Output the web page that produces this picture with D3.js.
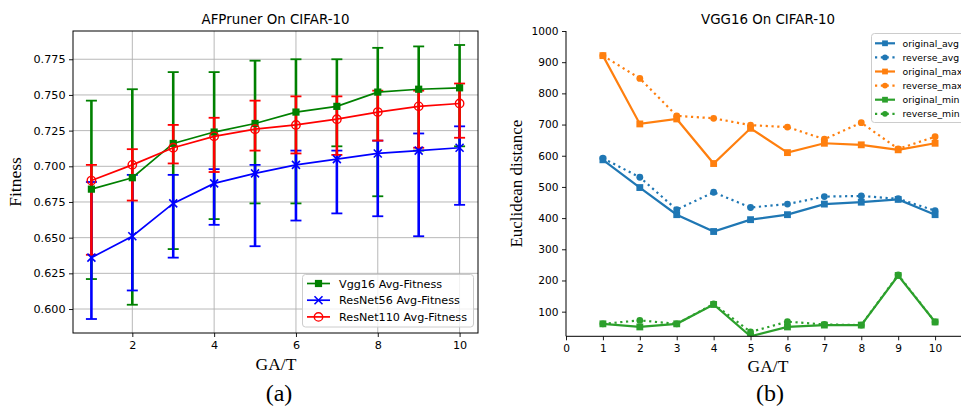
<!DOCTYPE html>
<html>
<head>
<meta charset="utf-8">
<script src="https://cdn.jsdelivr.net/npm/d3@7"></script>
<style>
  body { margin: 0; background: #fff; }
  svg { display: block; }
</style>
</head>
<body>
<div id="chart"></div>
<script>
// ---- (a) AFPruner fitness per generation ----
let generations = [1, 2, 3, 4, 5, 6, 7, 8, 9, 10];

let vggMean = [0.684, 0.692, 0.716, 0.724, 0.730, 0.738, 0.742, 0.752, 0.754, 0.755];
let vggLow  = [0.621, 0.603, 0.642, 0.663, 0.674, 0.674, 0.714, 0.679, 0.711, 0.714];
let vggHigh = [0.746, 0.754, 0.766, 0.766, 0.774, 0.775, 0.775, 0.783, 0.784, 0.785];

let res56Mean = [0.636, 0.651, 0.674, 0.688, 0.695, 0.701, 0.705, 0.709, 0.711, 0.713];
let res56Low  = [0.593, 0.613, 0.636, 0.659, 0.644, 0.662, 0.667, 0.665, 0.651, 0.673];
let res56High = [0.689, 0.694, 0.694, 0.698, 0.701, 0.711, 0.711, 0.718, 0.723, 0.728];

let res110Mean = [0.690, 0.701, 0.713, 0.721, 0.726, 0.729, 0.733, 0.738, 0.742, 0.744];
let res110Low  = [0.638, 0.676, 0.702, 0.696, 0.711, 0.709, 0.708, 0.718, 0.713, 0.720];
let res110High = [0.701, 0.712, 0.729, 0.734, 0.746, 0.749, 0.749, 0.753, 0.753, 0.758];

let fitnessTicks = [0.600, 0.625, 0.650, 0.675, 0.700, 0.725, 0.750, 0.775];
let genTicks = [2, 4, 6, 8, 10];

// ---- (b) VGG16 euclidean distance ----
let originalAvg = [587, 498, 411, 357, 395, 411, 445, 451, 460, 411];
let reverseAvg  = [592, 531, 427, 483, 434, 445, 469, 471, 462, 424];
let originalMax = [921, 702, 718, 575, 688, 610, 640, 635, 619, 640];
let reverseMax  = [921, 848, 728, 720, 698, 692, 653, 706, 622, 661];
let originalMin = [61, 51, 61, 123, 21, 51, 57, 57, 216, 67];
let reverseMin  = [61, 72, 61, 125, 35, 68, 59, 57, 218, 67];

let distTicks = [100, 200, 300, 400, 500, 600, 700, 800, 900, 1000];
let distXTicks = [0, 1, 2, 3, 4, 5, 6, 7, 8, 9, 10];

let sans = "DejaVu Sans, sans-serif";
let serif = "Liberation Serif, Times New Roman, serif";

let svg = d3.select("#chart")
  .append("svg")
  .attr("width", 961)
  .attr("height", 408);

let defs = svg.append("defs");

// =================== panel (a) ===================
let a = { left: 73, right: 478, top: 31, bottom: 333 };

let xA = d3.scaleLinear().domain([0.55, 10.45]).range([a.left, a.right]);
let yA = d3.scaleLinear().domain([0.5832, 0.7948]).range([a.bottom, a.top]);

defs.append("clipPath").attr("id", "clipA")
  .append("rect")
  .attr("x", a.left).attr("y", a.top)
  .attr("width", a.right - a.left).attr("height", a.bottom - a.top);

// grid
svg.append("g")
  .selectAll("line")
  .data(fitnessTicks)
  .enter()
  .append("line")
  .attr("x1", a.left).attr("x2", a.right)
  .attr("y1", d => yA(d)).attr("y2", d => yA(d))
  .attr("stroke", "#b0b0b0").attr("stroke-width", 0.9);

svg.append("g")
  .selectAll("line")
  .data(genTicks)
  .enter()
  .append("line")
  .attr("y1", a.top).attr("y2", a.bottom)
  .attr("x1", d => xA(d)).attr("x2", d => xA(d))
  .attr("stroke", "#b0b0b0").attr("stroke-width", 0.9);

let axisLeftA = d3.axisLeft(yA).tickValues(fitnessTicks).tickFormat(d3.format(".3f"))
  .tickSize(4).tickPadding(3.5);
let axisBottomA = d3.axisBottom(xA).tickValues(genTicks).tickSize(4).tickPadding(4);

let gyA = svg.append("g").attr("transform", `translate(${a.left},0)`).call(axisLeftA);
let gxA = svg.append("g").attr("transform", `translate(0,${a.bottom})`).call(axisBottomA);
[gyA, gxA].forEach(g => {
  g.select(".domain").remove();
  g.selectAll("text").attr("font-family", sans).attr("font-size", 11.2).attr("fill", "#000");
  g.selectAll("line").attr("stroke", "#000").attr("stroke-width", 0.9);
});

let seriesA = [
  { name: "Vgg16 Avg-Fitness", color: "#008000", marker: "square", mean: vggMean, low: vggLow, high: vggHigh },
  { name: "ResNet56 Avg-Fitness", color: "#0000ff", marker: "x", mean: res56Mean, low: res56Low, high: res56High },
  { name: "ResNet110 Avg-Fitness", color: "#ff0000", marker: "circle", mean: res110Mean, low: res110Low, high: res110High }
];

let plotA = svg.append("g").attr("clip-path", "url(#clipA)");

// error bars go below all the lines (matplotlib zorder)
seriesA.forEach(s => {
  let g = plotA.append("g").attr("stroke", s.color);
  generations.forEach((gen, i) => {
    let x = xA(gen);
    g.append("line")
      .attr("x1", x).attr("x2", x)
      .attr("y1", yA(s.low[i])).attr("y2", yA(s.high[i]))
      .attr("stroke-width", 2.6);
    [s.low[i], s.high[i]].forEach(v => {
      g.append("line")
        .attr("x1", x - 5.5).attr("x2", x + 5.5)
        .attr("y1", yA(v)).attr("y2", yA(v))
        .attr("stroke-width", 1.8);
    });
  });
});

function drawMarker(g, type, x, y, color, k) {
  k = k || 1;
  if (type === "square") {
    g.append("rect")
      .attr("x", x - 3.6 * k).attr("y", y - 3.6 * k)
      .attr("width", 7.2 * k).attr("height", 7.2 * k)
      .attr("fill", color);
  } else if (type === "x") {
    let r = 4 * k;
    g.append("path")
      .attr("d", `M${x - r},${y - r}L${x + r},${y + r}M${x - r},${y + r}L${x + r},${y - r}`)
      .attr("stroke", color).attr("stroke-width", 1.6).attr("fill", "none");
  } else if (type === "circle") {
    g.append("circle")
      .attr("cx", x).attr("cy", y).attr("r", 4.2 * k)
      .attr("fill", "none").attr("stroke", color).attr("stroke-width", 1.4);
  } else if (type === "dot") {
    g.append("circle")
      .attr("cx", x).attr("cy", y).attr("r", 3.6 * k)
      .attr("fill", color);
  }
}

let lineA = d3.line().x((d, i) => xA(generations[i])).y(d => yA(d));

seriesA.forEach(s => {
  plotA.append("path")
    .attr("d", lineA(s.mean))
    .attr("fill", "none")
    .attr("stroke", s.color)
    .attr("stroke-width", 1.7);
  s.mean.forEach((v, i) => drawMarker(plotA, s.marker, xA(generations[i]), yA(v), s.color));
});

// spines
svg.append("rect")
  .attr("x", a.left).attr("y", a.top)
  .attr("width", a.right - a.left).attr("height", a.bottom - a.top)
  .attr("fill", "none").attr("stroke", "#000").attr("stroke-width", 1);

// legend
let legA = svg.append("g");
legA.append("rect")
  .attr("x", 302.5).attr("y", 274.5).attr("width", 171).attr("height", 52.5)
  .attr("rx", 3)
  .attr("fill", "#fff").attr("fill-opacity", 0.8)
  .attr("stroke", "#cccccc").attr("stroke-width", 1);
seriesA.forEach((s, i) => {
  let y = 283.5 + i * 16.7;
  legA.append("line")
    .attr("x1", 307).attr("x2", 330).attr("y1", y).attr("y2", y)
    .attr("stroke", s.color).attr("stroke-width", 1.7);
  drawMarker(legA, s.marker, 318.5, y, s.color);
  legA.append("text")
    .attr("x", 339).attr("y", y + 4)
    .attr("font-family", sans).attr("font-size", 11.2)
    .text(s.name);
});

svg.append("text")
  .attr("x", (a.left + a.right) / 2).attr("y", 24)
  .attr("text-anchor", "middle")
  .attr("font-family", sans).attr("font-size", 13.4)
  .text("AFPruner On CIFAR-10");

svg.append("text")
  .attr("transform", `translate(21,${(a.top + a.bottom) / 2}) rotate(-90)`)
  .attr("text-anchor", "middle")
  .attr("font-family", serif).attr("font-size", 17.5)
  .text("Fitness");

svg.append("text")
  .attr("x", 276).attr("y", 370)
  .attr("text-anchor", "middle")
  .attr("font-family", serif).attr("font-size", 17.5)
  .text("GA/T");

svg.append("text")
  .attr("x", 279).attr("y", 401)
  .attr("text-anchor", "middle")
  .attr("font-family", serif).attr("font-size", 24)
  .text("(a)");

// =================== panel (b) ===================
let b = { left: 566, right: 972, top: 31, bottom: 336.3 };

let xB = d3.scaleLinear().domain([0, 11]).range([b.left, b.right]);
let yB = d3.scaleLinear().domain([21, 1000]).range([b.bottom, b.top]);

defs.append("clipPath").attr("id", "clipB")
  .append("rect")
  .attr("x", b.left).attr("y", b.top)
  .attr("width", b.right - b.left).attr("height", b.bottom - b.top);

let axisLeftB = d3.axisLeft(yB).tickValues(distTicks).tickFormat(d3.format("d"))
  .tickSize(4).tickPadding(3.5);
let axisBottomB = d3.axisBottom(xB).tickValues(distXTicks).tickFormat(d3.format("d"))
  .tickSize(4).tickPadding(4);

let gyB = svg.append("g").attr("transform", `translate(${b.left},0)`).call(axisLeftB);
let gxB = svg.append("g").attr("transform", `translate(0,${b.bottom})`).call(axisBottomB);
[gyB, gxB].forEach(g => {
  g.select(".domain").remove();
  g.selectAll("text").attr("font-family", sans).attr("font-size", 10.6).attr("fill", "#000");
  g.selectAll("line").attr("stroke", "#000").attr("stroke-width", 0.9);
});

let seriesB = [
  { name: "original_avg", color: "#1f77b4", dotted: false, values: originalAvg },
  { name: "reverse_avg", color: "#1f77b4", dotted: true, values: reverseAvg },
  { name: "original_max", color: "#ff7f0e", dotted: false, values: originalMax },
  { name: "reverse_max", color: "#ff7f0e", dotted: true, values: reverseMax },
  { name: "original_min", color: "#2ca02c", dotted: false, values: originalMin },
  { name: "reverse_min", color: "#2ca02c", dotted: true, values: reverseMin }
];

let plotB = svg.append("g").attr("clip-path", "url(#clipB)");
let lineB = d3.line().x((d, i) => xB(generations[i])).y(d => yB(d));

seriesB.forEach(s => {
  plotB.append("path")
    .attr("d", lineB(s.values))
    .attr("fill", "none")
    .attr("stroke", s.color)
    .attr("stroke-width", 2.2)
    .attr("stroke-dasharray", s.dotted ? "2.2,3.6" : null);
  s.values.forEach((v, i) =>
    drawMarker(plotB, s.dotted ? "dot" : "square", xB(generations[i]), yB(v), s.color, 0.95));
});

// only left and bottom spines
svg.append("line")
  .attr("x1", b.left).attr("x2", b.left).attr("y1", b.top).attr("y2", b.bottom)
  .attr("stroke", "#000").attr("stroke-width", 1);
svg.append("line")
  .attr("x1", b.left).attr("x2", b.right).attr("y1", b.bottom).attr("y2", b.bottom)
  .attr("stroke", "#000").attr("stroke-width", 1);

let legB = svg.append("g");
legB.append("rect")
  .attr("x", 871.5).attr("y", 33.5).attr("width", 110).attr("height", 89)
  .attr("rx", 3)
  .attr("fill", "#fff").attr("fill-opacity", 0.8)
  .attr("stroke", "#cccccc").attr("stroke-width", 1);
seriesB.forEach((s, i) => {
  let y = 43.3 + i * 14.1;
  legB.append("line")
    .attr("x1", 875).attr("x2", 895).attr("y1", y).attr("y2", y)
    .attr("stroke", s.color).attr("stroke-width", 2.2)
    .attr("stroke-dasharray", s.dotted ? "2.2,3.6" : null);
  drawMarker(legB, s.dotted ? "dot" : "square", 885, y, s.color, 0.8);
  legB.append("text")
    .attr("x", 902.5).attr("y", y + 3.3)
    .attr("font-family", sans).attr("font-size", 9.3)
    .text(s.name);
});

svg.append("text")
  .attr("x", 768).attr("y", 24)
  .attr("text-anchor", "middle")
  .attr("font-family", sans).attr("font-size", 13.4)
  .text("VGG16 On CIFAR-10");

svg.append("text")
  .attr("transform", `translate(522,${(b.top + b.bottom) / 2}) rotate(-90)`)
  .attr("text-anchor", "middle")
  .attr("font-family", serif).attr("font-size", 17)
  .text("Euclidean distance");

svg.append("text")
  .attr("x", 768).attr("y", 372)
  .attr("text-anchor", "middle")
  .attr("font-family", serif).attr("font-size", 17.5)
  .text("GA/T");

svg.append("text")
  .attr("x", 770).attr("y", 401)
  .attr("text-anchor", "middle")
  .attr("font-family", serif).attr("font-size", 24)
  .text("(b)");
</script>
</body>
</html>
